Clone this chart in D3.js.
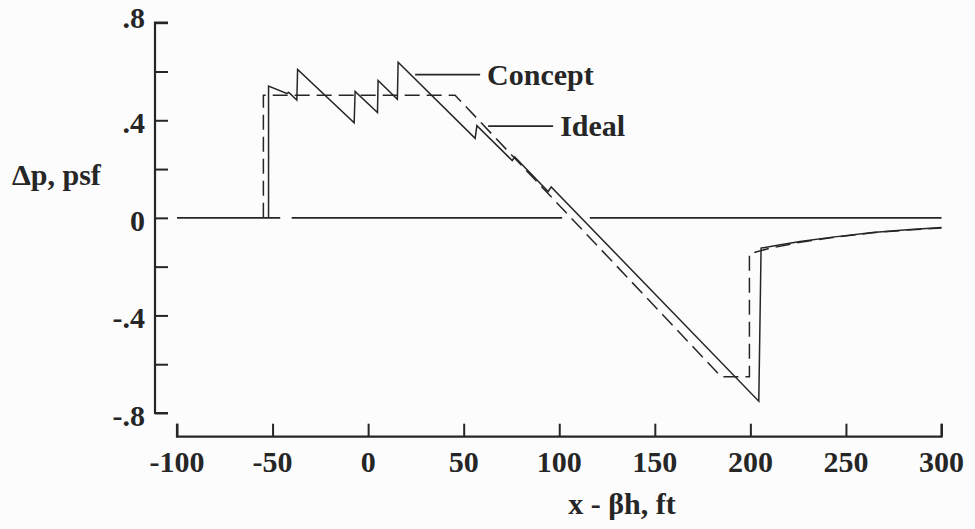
<!DOCTYPE html>
<html>
<head>
<meta charset="utf-8">
<script src="https://cdn.jsdelivr.net/npm/d3@7"></script>
<style>
  html, body { margin: 0; padding: 0; background: #fcfcfc; }
  svg { display: block; }
  text { font-family: "Liberation Serif", "Times New Roman", serif; font-weight: bold; fill: #262626; }
</style>
</head>
<body>
<svg id="chart" width="975" height="529"></svg>
<script>
// Pressure signature: shaped concept vs. ideal target
const xTickValues = [-100, -50, 0, 50, 100, 150, 200, 250, 300];
const xTickLabels = ["-100", "-50", "0", "50", "100", "150", "200", "250", "300"];
const yTickValues = [-0.8, -0.6, -0.4, -0.2, 0, 0.2, 0.4, 0.6, 0.8];
const yLabelValues = [-0.8, -0.4, 0, 0.4, 0.8];
const yLabelText = ["-.8", "-.4", "0", ".4", ".8"];

const conceptX = [-52.1, -52.1, -42.6, -41.5, -37.3, -36.9, -7.3, -6.8, 4.9, 5.2, 15.3, 15.7, 56.0, 56.9, 75.4, 76.7, 94.2, 95.8, 204.4, 205.6, 215, 226, 243, 264, 282, 300];
const conceptY = [0, 0.540, 0.510, 0.514, 0.483, 0.608, 0.390, 0.518, 0.432, 0.563, 0.486, 0.638, 0.326, 0.378, 0.235, 0.250, 0.108, 0.127, -0.752, -0.124, -0.111, -0.097, -0.079, -0.060, -0.049, -0.040];

const idealX = [-54.8, -54.8, 45.5, 184.7, 199.5, 199.5, 203, 210, 226, 243, 264, 282, 300];
const idealY = [0, 0.503, 0.503, -0.651, -0.651, -0.147, -0.140, -0.125, -0.100, -0.081, -0.061, -0.050, -0.042];

// zero reference line, broken where the curves cross it
const zeroSegments = [[-100, -46], [-40, 101.5], [116, 300]];

// callout labels: [x start, x end, y, label]
const callouts = [
  { x0: 24.6, x1: 58.6, y: 0.587, label: "Concept" },
  { x0: 62.8, x1: 96.8, y: 0.376, label: "Ideal" }
];

const svg = d3.select("#chart");
const ink = "#262626";

const x = d3.scaleLinear().domain([-100, 300]).range([177, 941.5]);
const y = d3.scaleLinear().domain([-0.8, 0.8]).range([413, 22.7]);

// y axis: ticks point inward
const yAxis = d3.axisRight(y).tickValues(yTickValues).tickSize(13).tickFormat("");
const gy = svg.append("g").attr("transform", "translate(155,0)").call(yAxis);
gy.select(".domain").attr("d", `M13,${y(0.8)}H0V${y(-0.8)}H13`).attr("stroke", ink).attr("stroke-width", 2.2);
gy.selectAll(".tick line").attr("stroke", ink).attr("stroke-width", 2);

svg.append("g").selectAll("text").data(yLabelValues).join("text")
  .attr("x", 145)
  .attr("y", (d, i) => y(d) + (d === 0.8 ? 5 : 13))
  .attr("text-anchor", "end")
  .attr("font-size", 30)
  .text((d, i) => yLabelText[i]);

// x axis: separate baseline, ticks pointing up
const xAxisY = 436.7;
const xAxis = d3.axisTop(x).tickValues(xTickValues).tickSize(13).tickFormat("");
const gx = svg.append("g").attr("transform", `translate(0,${xAxisY})`).call(xAxis);
gx.select(".domain").attr("d", `M${x(-100)},-13V0H${x(300)}V-13`).attr("stroke", ink).attr("stroke-width", 2.2);
gx.selectAll(".tick line").attr("stroke", ink).attr("stroke-width", 2);

svg.append("g").selectAll("text").data(xTickValues).join("text")
  .attr("x", d => x(d))
  .attr("y", 472)
  .attr("text-anchor", "middle")
  .attr("font-size", 30)
  .text((d, i) => xTickLabels[i]);

// axis titles
svg.append("text").attr("x", 12).attr("y", 185).attr("font-size", 30).text("\u0394p, psf");
svg.append("text").attr("x", 622).attr("y", 514).attr("text-anchor", "middle").attr("font-size", 30).text("x - \u03B2h, ft");

// zero line
svg.append("g").selectAll("line").data(zeroSegments).join("line")
  .attr("x1", d => x(d[0])).attr("x2", d => x(d[1]))
  .attr("y1", y(0)).attr("y2", y(0))
  .attr("stroke", ink).attr("stroke-width", 1.6);

const line = d3.line().x(d => x(d[0])).y(d => y(d[1]));

// ideal signature (dashed)
svg.append("path")
  .attr("d", line(d3.zip(idealX, idealY)))
  .attr("fill", "none").attr("stroke", ink).attr("stroke-width", 1.5)
  .attr("stroke-dasharray", "15,7");

// concept signature (solid)
svg.append("path")
  .attr("d", line(d3.zip(conceptX, conceptY)))
  .attr("fill", "none").attr("stroke", ink).attr("stroke-width", 1.5)
  .attr("stroke-linejoin", "miter");

// callouts
const cg = svg.append("g");
cg.selectAll("line").data(callouts).join("line")
  .attr("x1", d => x(d.x0)).attr("x2", d => x(d.x1))
  .attr("y1", d => y(d.y)).attr("y2", d => y(d.y))
  .attr("stroke", ink).attr("stroke-width", 1.6);
cg.selectAll("text").data(callouts).join("text")
  .attr("x", d => x(d.x1) + 7)
  .attr("y", d => y(d.y) + 10)
  .attr("font-size", 30)
  .text(d => d.label);
</script>
</body>
</html>
